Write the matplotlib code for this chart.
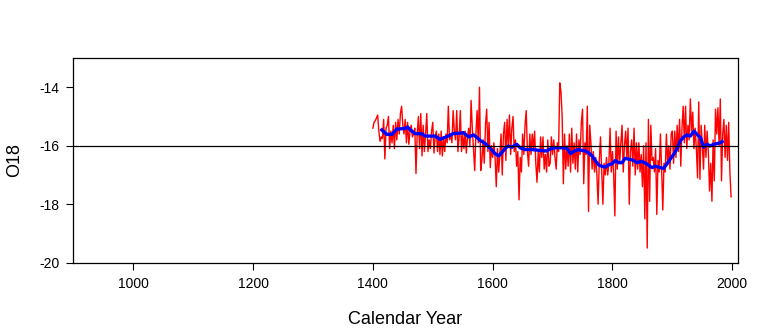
import matplotlib.pyplot as plt
import numpy as np

plt.rcParams['font.family'] = ['Liberation Sans', 'DejaVu Sans']
plt.rcParams['axes.unicode_minus'] = False

# annual O18 series, sampled every second year from 1400 to 1998
years = np.arange(1400, 2000, 2)
o18 = [
    -15.4, -15.2, -15.15, -15.05, -14.95,   # 1400s
    -15.5, -15.85, -15.7, -15.75, -15.1,
    -16.45, -15.4, -15.3, -15.0, -16.1,
    -15.5, -15.9, -15.3, -16.1, -15.2,
    -15.8, -15.1, -15.6, -14.9, -14.65,
    -15.3, -15.6, -15.1, -15.9, -15.2,
    -15.95, -15.5, -15.3, -15.7, -15.6,
    -15.4, -16.95, -15.6, -15.0, -16.1,
    -14.9, -16.35, -15.3, -16.2, -15.6,
    -14.9, -16.2, -15.8, -16.1, -15.5,
    -15.2, -16.25, -15.7, -15.5, -16.2,     # 1500s
    -15.6, -16.3, -15.5, -16.35, -15.7,
    -16.2, -15.6, -15.9, -14.65, -15.8,
    -15.6, -15.9, -14.8, -15.5, -15.8,
    -14.8, -16.2, -15.7, -14.8, -16.2,
    -15.6, -16.1, -15.5, -16.25, -15.7,
    -15.4, -16.0, -14.45, -15.4, -16.1,
    -16.85, -15.6, -14.8, -15.9, -14.0,
    -16.85, -16.5, -15.8, -16.6, -15.3,
    -14.75, -16.2, -15.2, -16.75, -16.0,
    -16.4, -15.9, -16.4, -17.4, -16.1,      # 1600s
    -16.9, -16.3, -15.6, -17.0, -15.6,
    -15.2, -16.5, -15.1, -16.0, -14.95,
    -16.3, -15.4, -15.0, -16.2, -15.8,
    -16.7, -16.2, -17.85, -16.4, -16.9,
    -15.6, -16.3, -15.3, -14.8, -16.2,
    -16.7, -15.6, -16.3, -15.6, -16.1,
    -15.5, -16.6, -17.25, -16.2, -16.9,
    -15.7, -16.4, -15.7, -16.8, -16.3,
    -16.9, -15.8, -16.7, -16.6, -15.7,
    -16.3, -15.8, -16.4, -16.8, -15.9,      # 1700s
    -16.2, -13.85, -14.15, -15.0, -17.3,
    -15.6, -16.8, -16.0, -16.7, -15.6,
    -16.9, -15.4, -16.6, -15.9, -16.8,
    -15.6, -16.9, -15.8, -16.3, -15.2,
    -14.75, -17.3, -15.9, -16.3, -14.65,
    -18.25, -15.3, -15.9, -16.8, -16.2,
    -16.9, -16.4, -17.0, -18.0, -16.5,
    -15.7, -16.9, -18.0, -16.6, -17.0,
    -16.4, -17.0, -16.6, -15.4, -16.9,
    -16.2, -17.0, -18.4, -15.5, -16.8,      # 1800s
    -15.7, -16.6, -15.9, -15.3, -16.9,
    -16.0, -15.5, -16.4, -15.4, -18.0,
    -16.2, -15.8, -16.7, -15.4, -17.0,
    -15.9, -16.8, -15.9, -16.9, -16.3,
    -17.4, -16.0, -18.5, -15.9, -19.5,
    -15.1, -17.9, -15.3, -16.5, -16.4,
    -16.9, -16.1, -18.35, -16.5, -16.9,
    -15.6, -16.8, -18.2, -16.6, -16.9,
    -15.6, -16.6, -16.0, -16.8, -15.6,
    -15.5, -16.6, -15.5, -16.4, -15.3,      # 1900s
    -16.2, -15.1, -16.7, -15.4, -14.65,
    -15.9, -14.65, -16.1, -15.3, -15.8,
    -14.4, -15.5, -14.85, -16.1, -15.4,
    -16.1, -17.1, -14.5, -17.15, -15.3,
    -16.0, -16.8, -15.3, -16.4, -15.5,
    -16.2, -17.55, -16.6, -17.9, -15.8,
    -17.2, -14.75, -15.6, -14.7, -16.0,
    -14.4, -17.2, -15.6, -15.1, -16.4,
    -15.3, -16.5, -15.2, -16.9, -17.75,
]

# smoothed curve
smooth_years = [1415, 1423, 1432, 1440, 1454, 1458, 1462, 1471, 1482, 1487,
                1504, 1512, 1526, 1535, 1546, 1551, 1560, 1568, 1574, 1579,
                1588, 1596, 1604, 1610, 1615, 1621, 1626, 1632, 1640, 1646,
                1654, 1665, 1679, 1690, 1697, 1704, 1716, 1724, 1730, 1735,
                1743, 1749, 1755, 1760, 1766, 1771, 1777, 1782, 1788, 1793,
                1799, 1805, 1810, 1816, 1821, 1830, 1835, 1841, 1847, 1852,
                1860, 1866, 1871, 1877, 1885, 1891, 1896, 1902, 1908, 1913,
                1919, 1924, 1930, 1936, 1941, 1947, 1952, 1958, 1963, 1969,
                1974, 1980, 1983]
smooth = [-15.46, -15.61, -15.61, -15.43, -15.41, -15.36, -15.45, -15.59, -15.59, -15.67,
          -15.67, -15.78, -15.67, -15.58, -15.57, -15.55, -15.70, -15.63, -15.72, -15.82,
          -15.93, -16.09, -16.27, -16.35, -16.24, -16.09, -16.01, -16.05, -15.95, -16.07,
          -16.13, -16.13, -16.16, -16.18, -16.10, -16.07, -16.07, -16.09, -16.27, -16.20,
          -16.13, -16.16, -16.18, -16.24, -16.35, -16.50, -16.66, -16.70, -16.73, -16.66,
          -16.62, -16.50, -16.58, -16.58, -16.43, -16.47, -16.50, -16.58, -16.54, -16.56,
          -16.66, -16.75, -16.70, -16.73, -16.78, -16.62, -16.47, -16.30, -16.09, -15.84,
          -15.70, -15.63, -15.67, -15.50, -15.61, -15.73, -16.05, -15.95, -16.01, -15.95,
          -15.93, -15.90, -15.86]

reference_level = -16

fig = plt.figure(figsize=(7.68, 3.31), dpi=100)
ax = fig.add_axes([0.0955, 0.2063, 0.8658, 0.6185])

ax.plot(years, o18, color='red', lw=1.0)
ax.plot(smooth_years, smooth, color='blue', lw=2.4)
ax.axhline(reference_level, color='black', lw=0.9)

ax.set_xlim(900, 2010)
ax.set_ylim(-20, -13)
ax.set_xticks([1000, 1200, 1400, 1600, 1800, 2000])
ax.set_yticks([-20, -18, -16, -14])
ax.tick_params(direction='out', length=5, width=0.8, labelsize=10, pad=5)

for s in ax.spines.values():
    s.set_linewidth(0.9)

fig.text(15 / 768, 1 - 160 / 331, 'O18', rotation=90, ha='center', va='center', fontsize=13)
fig.text(405 / 768, 1 - 319 / 331, 'Calendar Year', ha='center', va='center', fontsize=13)

fig.savefig('out.png', dpi=100)
